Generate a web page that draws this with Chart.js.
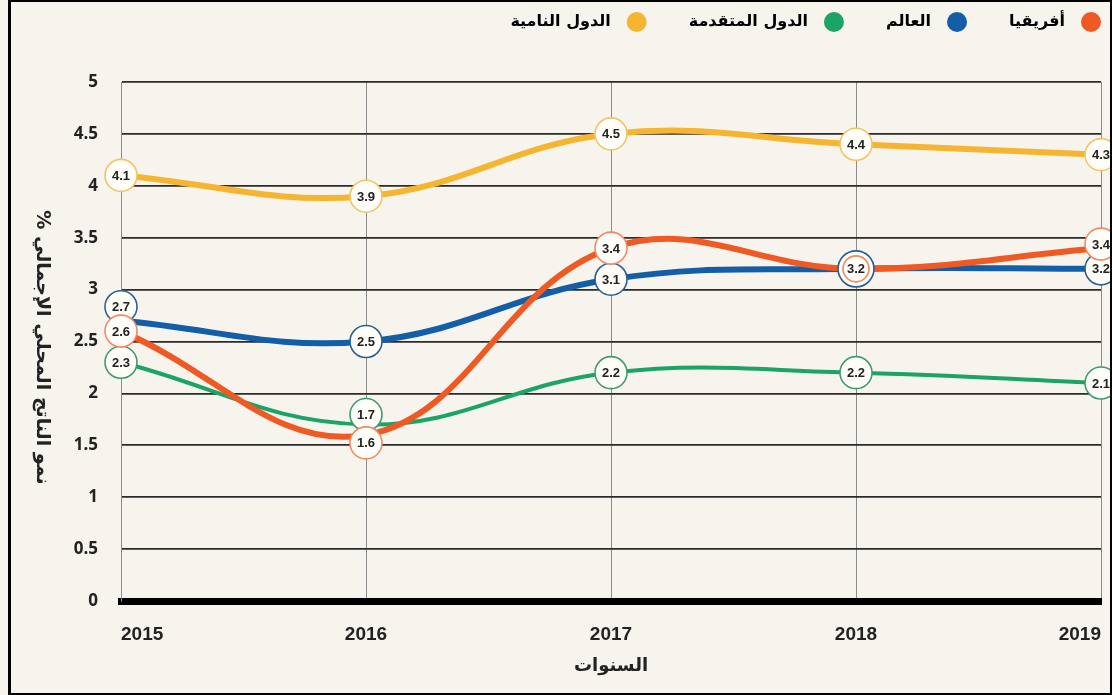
<!DOCTYPE html>
<html lang="ar">
<head>
<meta charset="utf-8">
<script src="https://cdn.jsdelivr.net/npm/chart.js@4"></script>
<style>
  html, body { margin: 0; padding: 0; background: #fff; }
  #wrap { position: relative; width: 1112px; height: 695px; background: #f7f4ee; }
  #frame { position: absolute; left: 8px; top: 0; right: 0; bottom: 0; border: 2px solid #000; border-left-width: 3px; pointer-events: none; }
</style>
</head>
<body>
<div id="wrap">
  <canvas id="growthChart" width="1112" height="695"></canvas>
  <div id="frame"></div>
</div>
<script>
const years = ["2015", "2016", "2017", "2018", "2019"];
const africa = [2.6, 1.6, 3.4, 3.2, 3.4];
const world = [2.7, 2.5, 3.1, 3.2, 3.2];
const developed = [2.3, 1.7, 2.2, 2.2, 2.1];
const developing = [4.1, 3.9, 4.5, 4.4, 4.3];
const seriesNames = ["أفريقيا", "العالم", "الدول المتقدمة", "الدول النامية"];
const yAxisTitle = "نمو الناتج المحلي الإجمالي %";
const xAxisTitle = "السنوات";

// circles with the value written inside, drawn on top of the lines
const valueBubbles = {
  id: "valueBubbles",
  afterDatasetsDraw(chart) {
    const ctx = chart.ctx;
    ctx.save();
    for (let i = chart.data.datasets.length - 1; i >= 0; i--) {
      const ds = chart.data.datasets[i];
      const meta = chart.getDatasetMeta(i);
      meta.data.forEach((pt, j) => {
        const r = ds.ringRadius ? ds.ringRadius[j] : 16;
        const y = pt.y + (ds.labelShift ? ds.labelShift[j] : 0);
        ctx.beginPath();
        ctx.arc(pt.x, y, r, 0, Math.PI * 2);
        ctx.fillStyle = "#fffdf8";
        ctx.fill();
        ctx.lineWidth = 1.6;
        ctx.strokeStyle = ds.ringColor;
        ctx.stroke();
        ctx.fillStyle = "#222";
        ctx.font = 'bold 13px "Liberation Sans Narrow", "Liberation Sans", sans-serif';
        ctx.textAlign = "center";
        ctx.textBaseline = "middle";
        ctx.fillText(String(ds.data[j]), pt.x, y + 1);
      });
    }
    ctx.restore();
  },
};

// y title turned clockwise, like in the original
const sideTitle = {
  id: "sideTitle",
  afterDraw(chart) {
    const ctx = chart.ctx;
    const area = chart.chartArea;
    ctx.save();
    ctx.translate(42, (area.top + area.bottom) / 2 + 6);
    ctx.rotate(Math.PI / 2);
    ctx.font = 'bold 19px "DejaVu Sans", sans-serif';
    ctx.fillStyle = "#222";
    ctx.textAlign = "center";
    ctx.textBaseline = "middle";
    ctx.fillText(yAxisTitle, 0, 0);
    ctx.restore();
  },
};

// more room under the legend, and legend pushed a little to the right
const legendShift = 42;
const legendRoom = {
  id: "legendRoom",
  beforeInit(chart) {
    const fit = chart.legend.fit;
    chart.legend.fit = function () {
      fit.call(this);
      this.height += 42;
    };
  },
  beforeDraw(chart) {
    chart.legend.left += legendShift;
    chart.legend.right += legendShift;
  },
  afterDraw(chart) {
    chart.legend.left -= legendShift;
    chart.legend.right -= legendShift;
  },
};

const ctx = document.getElementById("growthChart").getContext("2d");
new Chart(ctx, {
  type: "line",
  data: {
    labels: years,
    datasets: [
      {
        label: seriesNames[0],
        data: africa,
        borderColor: "#ef5a24",
        ringColor: "#f08a66",
        borderWidth: 6,
        labelShift: [0, 8, 0, 0, -4],
        ringRadius: [16, 16, 16, 13, 16],
      },
      {
        label: seriesNames[1],
        data: world,
        borderColor: "#135ea6",
        ringColor: "#2a5f92",
        borderWidth: 6,
        labelShift: [-14, 0, 0, 0, 0],
        ringRadius: [16, 16, 16, 18, 16],
      },
      {
        label: seriesNames[2],
        data: developed,
        borderColor: "#1ba466",
        ringColor: "#3f9a72",
        borderWidth: 4,
        labelShift: [0, -10, 0, 0, 0],
      },
      {
        label: seriesNames[3],
        data: developing,
        borderColor: "#f6b531",
        ringColor: "#f2c468",
        borderWidth: 6,
      },
    ],
  },
  options: {
    responsive: false,
    animation: false,
    layout: { padding: { top: -28, right: 11, left: 0, bottom: 0 } },
    elements: {
      line: { tension: 0.4, fill: false, borderCapStyle: "round" },
      point: { radius: 0, hoverRadius: 0 },
    },
    plugins: {
      tooltip: { enabled: false },
      legend: {
        position: "top",
        align: "start",
        rtl: true,
        textDirection: "rtl",
        labels: {
          usePointStyle: true,
          pointStyleWidth: 20,
          boxHeight: 14,
          padding: 42,
          color: "#222",
          font: { family: '"DejaVu Sans", sans-serif', size: 16, weight: "bold" },
          generateLabels: (chart) =>
            chart.data.datasets.map((ds, i) => ({
              text: "\u2002" + ds.label,
              fillStyle: ds.borderColor,
              strokeStyle: ds.borderColor,
              lineWidth: 0,
              pointStyle: "circle",
              datasetIndex: i,
              hidden: false,
            })),
        },
      },
    },
    scales: {
      x: {
        offset: false,
        afterFit: (scale) => {
          scale.height = 94;
          scale.paddingLeft = 0;
          scale.paddingRight = 0;
        },
        grid: { color: "#8c8c8c", lineWidth: 1, drawTicks: false },
        border: { color: "#000", width: 7 },
        ticks: {
          align: "inner",
          padding: 22,
          maxRotation: 0,
          color: "#222",
          font: { family: '"Liberation Sans", sans-serif', size: 19, weight: "bold" },
        },
        title: {
          display: true,
          text: xAxisTitle,
          color: "#222",
          padding: { top: 6, bottom: 18 },
          font: { family: '"DejaVu Sans", sans-serif', size: 18, weight: "bold" },
        },
      },
      y: {
        min: 0,
        max: 5,
        afterFit: (scale) => { scale.width = 121; },
        grid: { color: "#2b2b2b", lineWidth: 1.8, drawTicks: false },
        border: { color: "#8c8c8c", width: 1 },
        ticks: {
          stepSize: 0.5,
          padding: 23,
          color: "#222",
          callback: (value) => String(value),
          font: { family: '"Open Sans", sans-serif', size: 17, weight: "bold" },
        },
      },
    },
  },
  plugins: [valueBubbles, sideTitle, legendRoom],
});
</script>
</body>
</html>
